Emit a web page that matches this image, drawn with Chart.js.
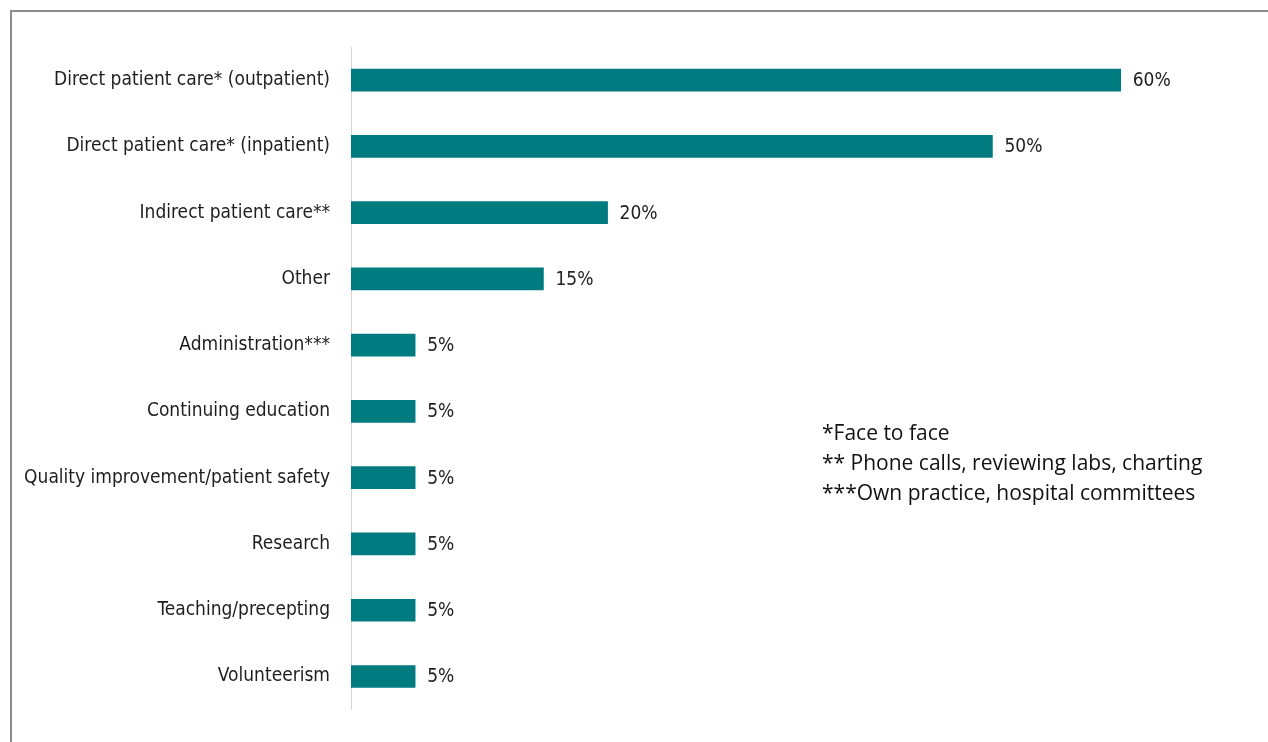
<!DOCTYPE html>
<html>
<head>
<meta charset="utf-8">
<script src="https://cdn.jsdelivr.net/npm/chart.js@4"></script>
<style>
  html, body { margin: 0; padding: 0; background: #fff; }
  #wrap { position: relative; width: 1268px; height: 742px; overflow: hidden; }
  #frame { position: absolute; left: 10px; top: 10px; width: 1300px; height: 800px;
           border-left: 2px solid #8c8c8c; border-top: 2px solid #8c8c8c; }
  #chartBox { position: absolute; left: 0; top: 0; width: 1268px; height: 742px; }
  #notes { position: absolute; left: 822px; top: 417px; font-family: "Open Sans", "Noto Sans", sans-serif;
           font-size: 21px; line-height: 30px; color: #111; }
</style>
</head>
<body>
<div id="wrap">
  <div id="frame"></div>
  <div id="chartBox"><canvas id="activityChart"></canvas></div>
  <div id="notes">
    <div>*Face to face</div>
    <div>** Phone calls, reviewing labs, charting</div>
    <div>***Own practice, hospital committees</div>
  </div>
</div>
<script>
const categories = [
  'Direct patient care* (outpatient)',
  'Direct patient care* (inpatient)',
  'Indirect patient care**',
  'Other',
  'Administration***',
  'Continuing education',
  'Quality improvement/patient safety',
  'Research',
  'Teaching/precepting',
  'Volunteerism'
];
const shares = [60, 50, 20, 15, 5, 5, 5, 5, 5, 5];

const labelFont = { family: '"Liberation Sans Narrow", "DejaVu Sans Condensed", sans-serif', size: 19 };

// percent labels to the right of each bar
const valueLabels = {
  id: 'valueLabels',
  afterDatasetsDraw(chart) {
    const c = chart.ctx;
    const meta = chart.getDatasetMeta(0);
    c.save();
    c.font = labelFont.size + 'px ' + labelFont.family;
    c.fillStyle = '#222';
    c.textAlign = 'left';
    c.textBaseline = 'middle';
    meta.data.forEach((bar, i) => {
      c.fillText(shares[i] + '%', bar.x + 12, bar.y + 1);
    });
    c.restore();
  }
};

const ctx = document.getElementById('activityChart').getContext('2d');
const chart = new Chart(ctx, {
  type: 'bar',
  data: {
    labels: categories,
    datasets: [{
      data: shares,
      backgroundColor: '#007B7F',
      borderWidth: 0,
      barThickness: 22
    }]
  },
  options: {
    indexAxis: 'y',
    responsive: true,
    maintainAspectRatio: false,
    animation: false,
    layout: { padding: { top: 47, bottom: 29, right: 19, left: 0 } },
    plugins: {
      legend: { display: false },
      tooltip: { enabled: false }
    },
    scales: {
      x: { display: false, min: 0, max: 70 },
      y: {
        afterFit(scale) { scale.width = 351; },
        grid: { display: false, drawTicks: false },
        border: { display: true, color: '#d4d4d4', width: 1 },
        ticks: { padding: 21, color: '#1e1e1e', font: labelFont }
      }
    }
  },
  plugins: [valueLabels]
});
</script>
</body>
</html>
